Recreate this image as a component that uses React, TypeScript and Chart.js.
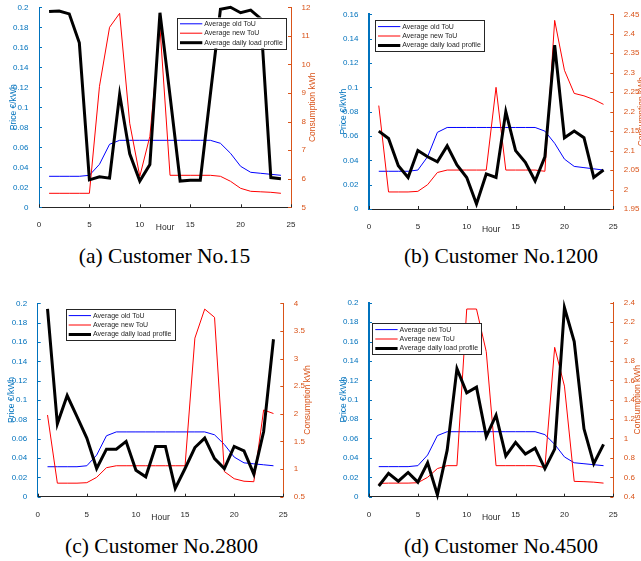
import React, { useEffect, useRef } from "react";
import { Chart, registerables } from "chart.js";

Chart.register(...registerables);

// ---------------- data ----------------
const hours = [1, 2, 3, 4, 5, 6, 7, 8, 9, 10, 11, 12, 13, 14, 15, 16, 17, 18, 19, 20, 21, 22, 23, 24];
const hourTicks = [0, 5, 10, 15, 20, 25];

const oldTouPrice = [0.031, 0.031, 0.031, 0.031, 0.032, 0.043, 0.063, 0.067, 0.067, 0.067, 0.067, 0.067, 0.067, 0.067, 0.067, 0.067, 0.067, 0.064, 0.054, 0.041, 0.035, 0.034, 0.033, 0.032];

const newTou15 = [0.014, 0.014, 0.014, 0.014, 0.014, 0.121, 0.18, 0.194, 0.084, 0.031, 0.071, 0.18, 0.032, 0.032, 0.032, 0.032, 0.032, 0.031, 0.026, 0.019, 0.016, 0.0155, 0.015, 0.014];
const load15 = [11.85, 11.87, 11.77, 10.76, 5.96, 6.07, 6.02, 8.95, 6.87, 5.92, 6.5, 11.81, 8.9, 5.92, 5.95, 5.95, 8.95, 11.93, 12.0, 11.81, 11.9, 11.6, 6.04, 6.0];

const newTou1200 = [0.085, 0.014, 0.014, 0.014, 0.0145, 0.02, 0.03, 0.032, 0.032, 0.032, 0.032, 0.032, 0.1, 0.032, 0.032, 0.032, 0.032, 0.031, 0.155, 0.114, 0.095, 0.093, 0.09, 0.086];
const load1200 = [2.15, 2.131, 2.061, 2.031, 2.1, 2.084, 2.071, 2.112, 2.063, 2.031, 1.963, 2.04, 2.031, 2.2, 2.1, 2.07, 2.022, 2.084, 2.371, 2.133, 2.15, 2.133, 2.031, 2.05];

const newTou2800 = [0.0845, 0.014, 0.014, 0.014, 0.0145, 0.02, 0.03, 0.032, 0.032, 0.032, 0.032, 0.032, 0.032, 0.032, 0.032, 0.164, 0.194, 0.1855, 0.026, 0.0186, 0.016, 0.0155, 0.0897, 0.086];
const load2800 = [3.9, 1.82, 2.33, 1.95, 1.56, 1.01, 1.36, 1.36, 1.5, 0.98, 0.86, 1.41, 1.41, 0.65, 1.01, 1.39, 1.56, 1.19, 1.01, 1.41, 1.33, 0.91, 1.68, 3.35];

const newTou4500 = [0.0137, 0.014, 0.014, 0.014, 0.0144, 0.02, 0.029, 0.032, 0.032, 0.1935, 0.1935, 0.1495, 0.032, 0.032, 0.032, 0.032, 0.032, 0.03, 0.154, 0.114, 0.0158, 0.0155, 0.015, 0.014];
const load4500 = [0.51, 0.64, 0.56, 0.65, 0.55, 0.75, 0.42, 0.88, 1.72, 1.47, 1.53, 1.02, 1.24, 0.82, 0.96, 0.84, 0.9, 0.69, 0.89, 2.35, 2.0, 1.1, 0.74, 0.94];

const priceTicks20 = [0, 0.02, 0.04, 0.06, 0.08, 0.1, 0.12, 0.14, 0.16, 0.18, 0.2];
const priceTicks16 = [0, 0.02, 0.04, 0.06, 0.08, 0.1, 0.12, 0.14, 0.16];
const loadTicks15 = [5, 6, 7, 8, 9, 10, 11, 12];
const loadTicks1200 = [1.95, 2, 2.05, 2.1, 2.15, 2.2, 2.25, 2.3, 2.35, 2.4, 2.45];
const loadTicks2800 = [0.5, 1, 1.5, 2, 2.5, 3, 3.5, 4];
const loadTicks4500 = [0.4, 0.6, 0.8, 1, 1.2, 1.4, 1.6, 1.8, 2, 2.2, 2.4];

const seriesLabels = ["Average old ToU", "Average new ToU", "Average daily load profile"];
const captions = ["(a) Customer No.15", "(b) Customer No.1200", "(c) Customer No.2800", "(d) Customer No.4500"];
const xTitle = "Hour";
const leftTitle = "Price €/kWh";
const rightTitle = "Consumption kWh";

// ---------------- style ----------------
const SANS = '"Liberation Sans", Arial, Helvetica, sans-serif';
const SERIF = '"Liberation Serif", "Times New Roman", serif';
const LEFT_COLOR = "#0072BD";
const RIGHT_COLOR = "#D95319";
const AXIS_DARK = "#262626";
const OLD_COLOR = "#0000FF";
const NEW_COLOR = "#FF0000";
const LOAD_COLOR = "#000000";

type Box = { left: number; top: number; width: number; height: number };
type Area = { left: number; top: number; right: number; bottom: number };
type PanelCfg = {
  caption: string;
  newTou: number[];
  load: number[];
  priceTicks: number[];
  loadTicks: number[];
  box: Box;
  area: Area;
  legend: { x: number; y: number };
  leftBorder: number;
  captionPos: { x: number; y: number };
};

const panels: PanelCfg[] = [
  {
    caption: captions[0], newTou: newTou15, load: load15, priceTicks: priceTicks20, loadTicks: loadTicks15,
    box: { left: 0, top: 0, width: 320, height: 240 },
    area: { left: 39, top: 7.3, right: 291, bottom: 207.3 },
    legend: { x: 177, y: 17.5 }, leftBorder: 1, captionPos: { x: 164.5, y: 256 },
  },
  {
    caption: captions[1], newTou: newTou1200, load: load1200, priceTicks: priceTicks16, loadTicks: loadTicks1200,
    box: { left: 320, top: 0, width: 321, height: 240 },
    area: { left: 369, top: 14.3, right: 613.3, bottom: 209 },
    legend: { x: 375, y: 20.3 }, leftBorder: 2, captionPos: { x: 501, y: 256 },
  },
  {
    caption: captions[2], newTou: newTou2800, load: load2800, priceTicks: priceTicks20, loadTicks: loadTicks2800,
    box: { left: 0, top: 290, width: 320, height: 240 },
    area: { left: 37.7, top: 303.3, right: 283.3, bottom: 496.7 },
    legend: { x: 65.7, y: 309.3 }, leftBorder: 1, captionPos: { x: 161.5, y: 546 },
  },
  {
    caption: captions[3], newTou: newTou4500, load: load4500, priceTicks: priceTicks20, loadTicks: loadTicks4500,
    box: { left: 320, top: 290, width: 321, height: 240 },
    area: { left: 369, top: 302.7, right: 613.3, bottom: 496.7 },
    legend: { x: 372.3, y: 323.3 }, leftBorder: 2, captionPos: { x: 501, y: 546 },
  },
];

const fmt = (v: number) => String(+Number(v).toFixed(4));
const TICK_FONT = 8;

function Panel({ p }: { p: PanelCfg }) {
  const ref = useRef<HTMLCanvasElement>(null);

  useEffect(() => {
    const canvas = ref.current!;
    const b = p.box;
    const wl = p.area.left - b.left;
    const wr = b.left + b.width - p.area.right;
    const padTop = p.area.top - b.top;
    const hx = b.top + b.height - p.area.bottom;
    const legendX = p.legend.x - b.left;
    const legendY = p.legend.y - b.top;

    const decor = {
      id: "decor",
      afterDraw(chart: any) {
        const { ctx, chartArea: a, scales } = chart;
        ctx.save();
        // inward ticks
        ctx.lineWidth = 1;
        ctx.strokeStyle = LEFT_COLOR;
        p.priceTicks.forEach((v) => {
          const y = Math.round(scales.y.getPixelForValue(v)) + 0.5;
          ctx.beginPath(); ctx.moveTo(a.left, y); ctx.lineTo(a.left + 3, y); ctx.stroke();
        });
        ctx.strokeStyle = RIGHT_COLOR;
        p.loadTicks.forEach((v) => {
          const y = Math.round(scales.y1.getPixelForValue(v)) + 0.5;
          ctx.beginPath(); ctx.moveTo(a.right - 3, y); ctx.lineTo(a.right, y); ctx.stroke();
        });
        ctx.strokeStyle = AXIS_DARK;
        hourTicks.forEach((v) => {
          const x = Math.round(scales.x.getPixelForValue(v)) + 0.5;
          ctx.beginPath(); ctx.moveTo(x, a.bottom); ctx.lineTo(x, a.bottom - 3); ctx.stroke();
        });

        // axis titles
        ctx.font = `${TICK_FONT}px ${SANS}`;
        const lw = Math.max(...p.priceTicks.map((v) => ctx.measureText(fmt(v)).width));
        const rw = Math.max(...p.loadTicks.map((v) => ctx.measureText(fmt(v)).width));
        const midY = (a.top + a.bottom) / 2;
        ctx.font = `8.5px ${SANS}`;
        ctx.textAlign = "center";
        ctx.textBaseline = "middle";
        ctx.fillStyle = AXIS_DARK;
        ctx.fillText(xTitle, (a.left + a.right) / 2, a.bottom + 20.5);

        ctx.save();
        ctx.translate(a.left - (2.5 + lw + 7.5), midY);
        ctx.rotate(-Math.PI / 2);
        ctx.fillStyle = LEFT_COLOR;
        ctx.fillText(leftTitle, 0, 0);
        ctx.restore();

        ctx.save();
        ctx.translate(a.right + 2.5 + rw + 10.5, midY);
        ctx.rotate(-Math.PI / 2);
        ctx.fillStyle = RIGHT_COLOR;
        ctx.fillText(rightTitle, 0, 0);
        ctx.restore();

        // legend
        ctx.font = `7px ${SANS}`;
        const tw = Math.max(...seriesLabels.map((s) => ctx.measureText(s).width));
        const sampleX0 = legendX + 3;
        const sampleX1 = legendX + 25.3;
        const textX = legendX + 27.3;
        const lwBox = textX + tw + 3.5 - legendX;
        const lhBox = 31;
        ctx.fillStyle = "#ffffff";
        ctx.fillRect(legendX, legendY, lwBox, lhBox);
        ctx.strokeStyle = AXIS_DARK;
        ctx.lineWidth = 1;
        ctx.strokeRect(Math.round(legendX) + 0.5, Math.round(legendY) + 0.5, Math.round(lwBox), Math.round(lhBox));
        const rows = [6.3, 15.7, 25.2];
        const colors = [OLD_COLOR, NEW_COLOR, LOAD_COLOR];
        const widths = [1, 1, 3];
        rows.forEach((off, i) => {
          const y = legendY + off;
          ctx.strokeStyle = colors[i];
          ctx.lineWidth = widths[i];
          ctx.beginPath(); ctx.moveTo(sampleX0, y); ctx.lineTo(sampleX1, y); ctx.stroke();
          ctx.fillStyle = AXIS_DARK;
          ctx.textAlign = "left";
          ctx.textBaseline = "middle";
          ctx.fillText(seriesLabels[i], textX, y);
        });
        ctx.restore();
      },
    };

    const pts = (arr: number[]) => hours.map((h, i) => ({ x: h, y: arr[i] }));

    const chart = new Chart(canvas, {
      type: "line",
      data: {
        datasets: [
          { label: seriesLabels[2], data: pts(p.load), yAxisID: "y1", borderColor: LOAD_COLOR, borderWidth: 3, pointRadius: 0, tension: 0, clip: false } as any,
          { label: seriesLabels[1], data: pts(p.newTou), yAxisID: "y", borderColor: NEW_COLOR, borderWidth: 1, pointRadius: 0, tension: 0, clip: false } as any,
          { label: seriesLabels[0], data: pts(oldTouPrice), yAxisID: "y", borderColor: OLD_COLOR, borderWidth: 1, pointRadius: 0, tension: 0, clip: false } as any,
        ],
      },
      options: {
        responsive: false,
        animation: false,
        devicePixelRatio: 1,
        layout: { padding: { left: 0, right: 0, top: padTop, bottom: 0 } },
        plugins: { legend: { display: false }, tooltip: { enabled: false }, title: { display: false } },
        scales: {
          x: {
            type: "linear", position: "bottom", min: 0, max: 25,
            afterBuildTicks: (s: any) => { s.ticks = hourTicks.map((v) => ({ value: v })); },
            afterFit: (s: any) => { s.height = hx; },
            grid: { display: false },
            border: { display: true, color: AXIS_DARK, width: 1 },
            ticks: { color: AXIS_DARK, font: { family: SANS, size: TICK_FONT }, padding: 5, maxRotation: 0, autoSkip: false, callback: (v: any) => fmt(v) },
          },
          y: {
            type: "linear", position: "left",
            min: p.priceTicks[0], max: p.priceTicks[p.priceTicks.length - 1],
            afterBuildTicks: (s: any) => { s.ticks = p.priceTicks.map((v) => ({ value: v })); },
            afterFit: (s: any) => { s.width = wl; },
            grid: { display: false },
            border: { display: true, color: LEFT_COLOR, width: p.leftBorder },
            ticks: { color: LEFT_COLOR, font: { family: SANS, size: TICK_FONT }, padding: 2.5, autoSkip: false, callback: (v: any) => fmt(v) },
          },
          y1: {
            type: "linear", position: "right",
            min: p.loadTicks[0], max: p.loadTicks[p.loadTicks.length - 1],
            afterBuildTicks: (s: any) => { s.ticks = p.loadTicks.map((v) => ({ value: v })); },
            afterFit: (s: any) => { s.width = wr; },
            grid: { display: false },
            border: { display: true, color: RIGHT_COLOR, width: 1 },
            ticks: { color: RIGHT_COLOR, font: { family: SANS, size: TICK_FONT }, padding: 2.5, autoSkip: false, callback: (v: any) => fmt(v) },
          },
        },
      } as any,
      plugins: [decor],
    });
    return () => chart.destroy();
  }, [p]);

  return (
    <canvas
      ref={ref}
      width={p.box.width}
      height={p.box.height}
      style={{ position: "absolute", left: p.box.left, top: p.box.top, width: p.box.width, height: p.box.height }}
    />
  );
}

export default function App() {
  return (
    <div style={{ position: "absolute", left: 0, top: 0, width: 641, height: 561, overflow: "hidden", background: "#ffffff" }}>
      {panels.map((p, i) => (
        <div
          key={"c" + i}
          style={{
            position: "absolute", left: p.captionPos.x - 150, top: p.captionPos.y - 12, width: 300, height: 24,
            textAlign: "center", fontFamily: SERIF, fontSize: 21.5, lineHeight: "24px", color: "#000",
            whiteSpace: "nowrap",
          }}
        >
          {p.caption}
        </div>
      ))}
      {panels.map((p, i) => (
        <Panel key={"p" + i} p={p} />
      ))}
    </div>
  );
}
